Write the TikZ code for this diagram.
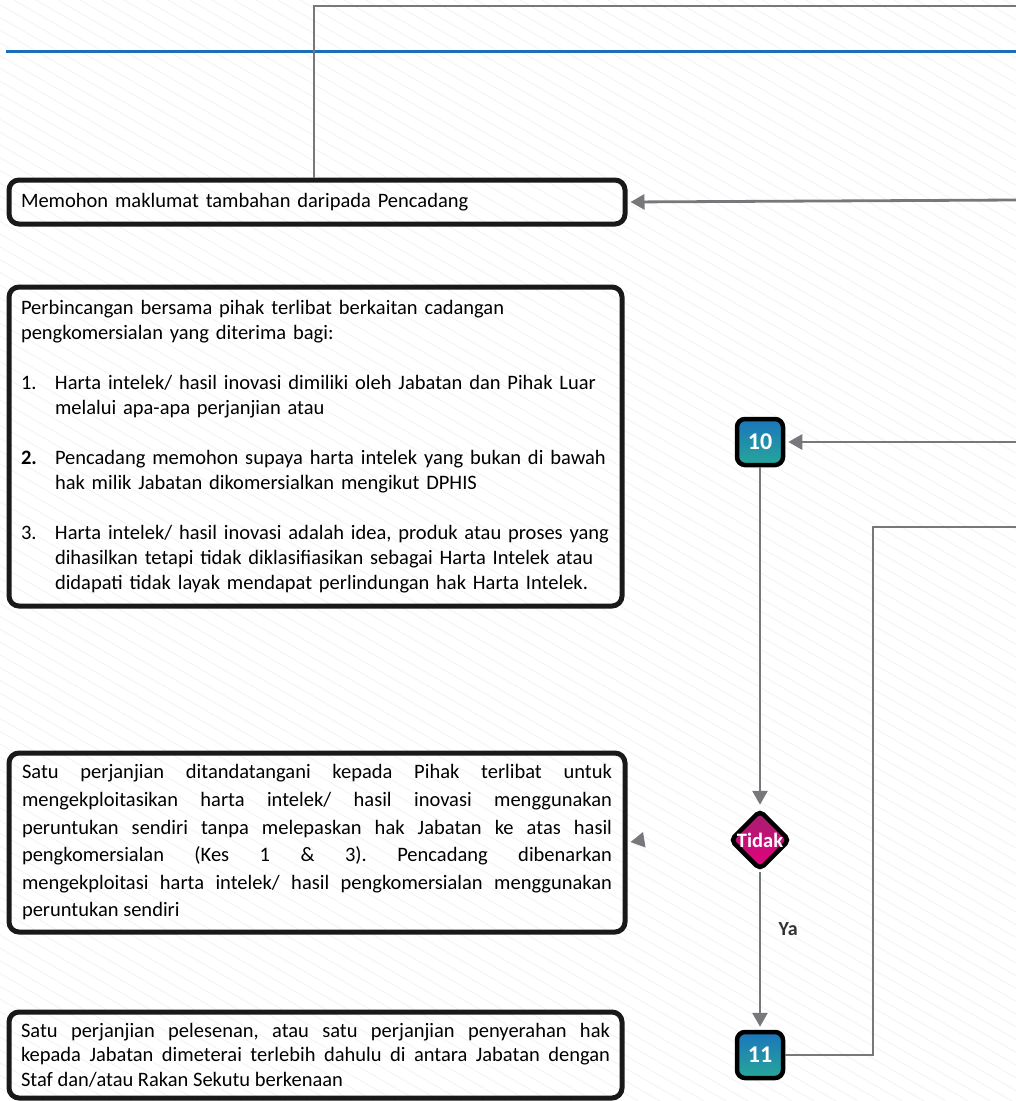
\documentclass[tikz,border=0pt]{standalone}
\usepackage{fontspec}
\setmainfont{Carlito}
\usetikzlibrary{shapes.geometric,arrows.meta}
\definecolor{linkgray}{HTML}{77787B}
\definecolor{ruleblue}{HTML}{1B6FB8}
\definecolor{numtop}{HTML}{1B75BB}
\definecolor{numbot}{HTML}{27A79A}
\definecolor{dectop}{HTML}{A3206F}
\definecolor{decbot}{HTML}{E6007E}
\definecolor{stripe}{HTML}{F2F2F2}
\frenchspacing
\newcommand{\hitem}[2]{\hangindent=34pt\hangafter=1\noindent\makebox[34pt][l]{#1}#2\par}
\tikzset{
    textbox/.style = {draw = black!90, line width = 5pt, rounded corners = 10pt,
        anchor = north west, inner xsep = 12pt, inner ysep = 0pt,
        font = \fontsize{20.5}{25}\selectfont},
    numbox/.style = {draw = black, line width = 4.5pt, rounded corners = 8pt,
        top color = numtop, bottom color = numbot, minimum size = 46pt,
        inner sep = 0pt, text = white, font = \fontsize{24}{24}\selectfont\bfseries},
    decbox/.style = {diamond, draw = black, line width = 4.5pt, rounded corners = 5pt,
        top color = dectop, bottom color = decbot, minimum size = 60pt, inner sep = 0pt},
    link/.style = {draw = linkgray, line width = 2.8pt},
    arrow/.style = {link, -{Triangle[length = 14pt, width = 15pt]}, shorten > = 3pt}
}

\begin{document}
\begin{tikzpicture}[x = 1pt, y = -1pt]
\useasboundingbox (0,0) rectangle (1016,1101);

\begin{scope}
\clip (0,0) rectangle (1016,1101);
\foreach \s in {-1900,-1878,...,1016}
    \draw[stripe, line width = 0.8pt] (\s,0) -- ++(1900,1101);
\end{scope}

\draw[ruleblue, line width = 3pt] (6,51) -- (1016,51);

\node[textbox, minimum width = 616pt, minimum height = 44pt, text width = 592pt, align = left]
    (ask) at (6.5,177.5) {Memohon maklumat tambahan daripada Pencadang};

\node[textbox, minimum width = 613pt, minimum height = 319pt, text width = 589pt, align = left]
    (talk) at (6.5,284.5) {%
    \noindent Perbincangan bersama pihak terlibat berkaitan cadangan\newline pengkomersialan yang diterima bagi:\par
    \vspace{25pt}
    \hitem{1.}{Harta intelek/ hasil inovasi dimiliki oleh Jabatan dan Pihak Luar\newline melalui apa-apa perjanjian atau}
    \vspace{25pt}
    \hitem{\textbf{2.}}{Pencadang memohon supaya harta intelek yang bukan di bawah\newline hak milik Jabatan dikomersialkan mengikut DPHIS}
    \vspace{25pt}
    \hitem{3.}{Harta intelek/ hasil inovasi adalah idea, produk atau proses yang\newline dihasilkan tetapi tidak diklasifiasikan sebagai Harta Intelek atau\newline didapati tidak layak mendapat perlindungan hak Harta Intelek.}};

\node[textbox, minimum width = 616pt, minimum height = 179pt, text width = 590pt,
    align = justify, font = \fontsize{20.5}{27.6}\selectfont]
    (deal) at (6.5,750.5) {Satu perjanjian ditandatangani kepada Pihak terlibat untuk\linebreak
    mengekploitasikan harta intelek/ hasil inovasi menggunakan\linebreak
    peruntukan sendiri tanpa melepaskan hak Jabatan ke atas hasil\linebreak
    pengkomersialan (Kes 1 \& 3). Pencadang dibenarkan\linebreak
    mengekploitasi harta intelek/ hasil pengkomersialan menggunakan\linebreak
    peruntukan sendiri};

\node[textbox, minimum width = 613pt, minimum height = 86pt, text width = 589pt,
    align = justify, font = \fontsize{20.5}{24.5}\selectfont]
    (licence) at (6.5,1009.5) {Satu perjanjian pelesenan, atau satu perjanjian penyerahan hak\linebreak
    kepada Jabatan dimeterai terlebih dahulu di antara Jabatan dengan\linebreak
    Staf dan/atau Rakan Sekutu berkenaan};

\node[numbox] (n10) at (760,442) {10};
\node[decbox, label = {[text = white, font = \fontsize{20.5}{20.5}\selectfont\bfseries]center:Tidak}]
    (dec) at (760,840) {};
\node[numbox] (n11) at (760,1055) {11};

\coordinate (in1) at (1016,6);
\coordinate (j1) at (314,6);
\coordinate (in2) at (1016,200);
\coordinate (in3) at (1016,442);
\coordinate (out11) at (1016,527);
\coordinate (bend) at (873,527);
\coordinate (tip3) at (643,840);

\draw[link] (in1) -- (j1) -- (j1 |- ask.north);
\draw[arrow] (in2) -- (ask.east);
\draw[arrow] (in3) -- (n10.east);
\draw[arrow] (n10.south) -- (dec.north);
\draw[arrow] (dec.south) -- node[right = 14pt, pos = 0.36, text = black!80,
    font = \fontsize{20}{20}\selectfont\bfseries] (ya) {Ya} (n11.north);
\draw[link] (n11.east) -| (bend) -- (out11);
\draw[arrow] (tip3) -- (deal.east);
\end{tikzpicture}
\end{document}
